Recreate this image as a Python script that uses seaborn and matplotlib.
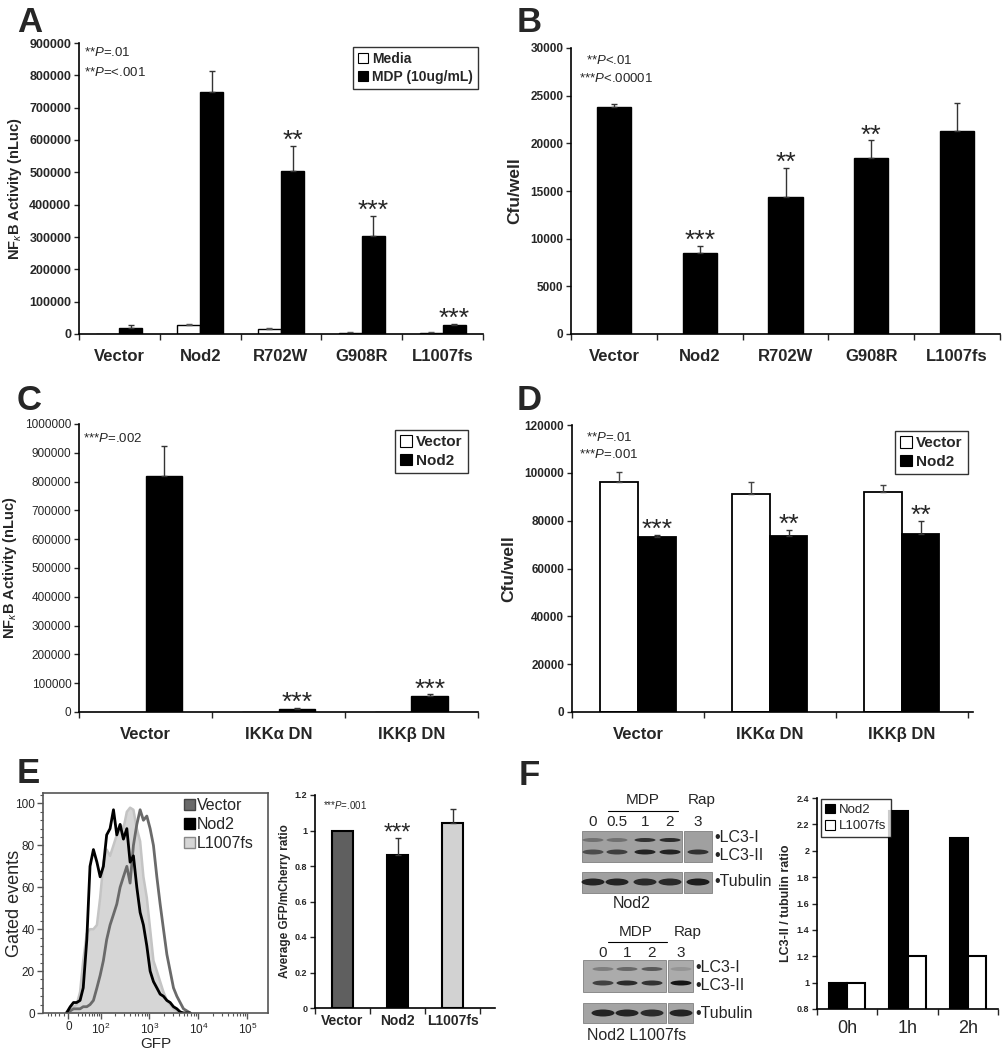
import numpy as np
import pandas as pd
import seaborn as sns
import matplotlib.pyplot as plt
from matplotlib.patches import Rectangle, Ellipse, Patch

sns.set_style("ticks")
plt.rcParams['font.family'] = ['Liberation Sans', 'DejaVu Sans']
plt.rcParams['mathtext.fontset'] = 'custom'
plt.rcParams['mathtext.rm'] = 'Liberation Sans'
plt.rcParams['mathtext.it'] = 'Liberation Sans:italic'
plt.rcParams['mathtext.bf'] = 'Liberation Sans:bold'

# ---------------- data ----------------
# A: NF-kB activity, media vs MDP
cats_a = ["Vector", "Nod2", "R702W", "G908R", "L1007fs"]
media_a = [1000, 27000, 15000, 3000, 3000]
media_err_a = [0, 5000, 5000, 3000, 2000]
mdp_a = [18000, 750000, 505000, 302000, 27000]
mdp_err_a = [9000, 63000, 77000, 62000, 4000]
stars_a = ["", "", "**", "***", "***"]

# B: cfu/well
cats_b = ["Vector", "Nod2", "R702W", "G908R", "L1007fs"]
cfu_b = [23800, 8500, 14400, 18500, 21300]
cfu_err_b = [300, 700, 3000, 1800, 2900]
stars_b = ["", "***", "**", "**", ""]

# C: NF-kB activity with dominant negatives
cats_c = ["Vector", "IKKα DN", "IKKβ DN"]
vector_c = [0, 0, 0]
nod2_c = [820000, 12000, 55000]
nod2_err_c = [105000, 3000, 6000]
stars_c = ["", "***", "***"]

# D: cfu/well with dominant negatives
cats_d = ["Vector", "IKKα DN", "IKKβ DN"]
vector_d = [96000, 91000, 92000]
vector_err_d = [4500, 5000, 3000]
nod2_d = [73000, 73500, 74500]
nod2_err_d = [1000, 2800, 5500]
stars_d = ["***", "**", "**"]

# E: GFP histograms (gated events per GFP bin)
gfp = [-4, 4, 11, 18, 26, 34, 44, 54, 66, 80, 95, 112, 132, 156, 184, 216, 253,
       296, 348, 406, 475, 557, 651, 760, 892, 1042, 1217, 1427, 1666, 1948,
       2283, 2667, 3115, 3651, 4262, 4978, 5841, 6820]
hist_vector = [0, 1, 2, 2, 2, 3, 3, 4, 6, 12, 18, 25, 35, 42, 47, 52, 60, 65, 70,
               62, 80, 90, 97, 92, 94, 88, 80, 65, 52, 40, 28, 20, 12, 8, 5, 2, 1, 0]
hist_nod2 = [0, 3, 5, 5, 6, 12, 35, 70, 78, 72, 65, 70, 85, 88, 97, 85, 90, 83, 88,
             72, 75, 60, 48, 42, 32, 20, 15, 12, 9, 8, 6, 5, 3, 2, 0.5, 0, 0, 0]
hist_l1007 = [0, 2, 3, 4, 10, 25, 38, 40, 40, 42, 55, 72, 78, 75, 80, 85, 90, 88, 96,
              98, 97, 88, 82, 65, 55, 40, 25, 20, 15, 10, 6, 4, 2, 1, 0, 0, 0, 0]

# E: GFP/mCherry ratio
cats_e = ["Vector", "Nod2", "L1007fs"]
ratio_e = [1.0, 0.86, 1.04]
ratio_err_e = [0, 0.10, 0.08]
colors_e = ["#5f5f5f", "#000000", "#d2d2d2"]
stars_e = ["", "***", ""]

# F: LC3-II / tubulin
cats_f = ["0h", "1h", "2h"]
nod2_f = [1.0, 2.3, 2.1]
l1007_f = [1.0, 1.2, 1.2]

# F: blot band intensities (0 = none, 1 = dark)
top_lanes = ["0", "0.5", "1", "2", "3"]
top_lc3i = [0.35, 0.35, 0.8, 0.85, 0.0]
top_lc3ii = [0.6, 0.7, 0.9, 0.9, 0.8]
top_tub = [0.9, 0.9, 0.85, 0.85, 0.95]
bot_lanes = ["0", "1", "2", "3"]
bot_lc3i = [0.3, 0.45, 0.55, 0.15]
bot_lc3ii = [0.7, 0.85, 0.8, 1.0]
bot_tub = [0.9, 0.9, 0.85, 0.9]

# ---------------- figure ----------------
W, H = 1002, 1050
fig = plt.figure(figsize=(W / 100, H / 100), dpi=100)


def px_axes(l, t, r, b):
    return fig.add_axes([l / W, 1 - b / H, (r - l) / W, (b - t) / H])


def style_bar_axes(ax, cats, ymin, ymax, ystep, fmt, ysize, ybold, xsize, xbold,
                   xpad, xmax=None):
    n = len(cats)
    ax.set_xlim(-0.5, (n - 0.5) if xmax is None else xmax)
    ax.set_ylim(ymin, ymax)
    yt = np.arange(ymin, ymax + ystep / 2, ystep)
    ax.set_yticks(yt, labels=[fmt(v) for v in yt], fontsize=ysize,
                  fontweight='bold' if ybold else 'normal')
    ax.set_xticks(np.arange(n + 1) - 0.5, labels=[''] * (n + 1))
    ax.set_xticks(np.arange(n), labels=cats, minor=True, fontsize=xsize,
                  fontweight='bold' if xbold else 'normal')
    ax.tick_params(axis='x', which='major', length=4, width=1, direction='out')
    ax.tick_params(axis='x', which='minor', length=0, pad=xpad)
    ax.tick_params(axis='y', length=3.5, width=1, direction='out', pad=2)
    ax.set_xlabel('')
    for s in ['top', 'right']:
        ax.spines[s].set_visible(False)
    for s in ['left', 'bottom']:
        ax.spines[s].set_linewidth(1.2)
        ax.spines[s].set_color('black')


def add_errors(ax, patches, errs, color='#333333', stars=None, star_size=19):
    for i, (p, e) in enumerate(zip(patches, errs)):
        x = p.get_x() + p.get_width() / 2
        h = p.get_height()
        if e > 0:
            ax.errorbar(x, h, yerr=[[0], [e]], fmt='none', ecolor=color,
                        elinewidth=1, capsize=2.5, capthick=1)
        if stars and stars[i]:
            ax.annotate(stars[i], (x, h + e), xytext=(0, -5),
                        textcoords='offset points', ha='center', va='bottom',
                        fontsize=star_size)


def style_legend(ax, anchor, size, bold=True, loc='upper right'):
    handles, labels = ax.get_legend_handles_labels()
    leg = ax.legend(handles, labels, loc=loc, bbox_to_anchor=anchor,
                    frameon=True, fancybox=False, edgecolor='black',
                    prop=dict(weight='bold' if bold else 'normal', size=size),
                    handlelength=0.75, handleheight=0.75, handletextpad=0.3,
                    borderpad=0.35, labelspacing=0.3, borderaxespad=0)
    leg.get_frame().set_linewidth(1)
    for h in leg.legend_handles:
        h.set_edgecolor('black')
        h.set_linewidth(0.8)
    return leg


int_fmt = lambda v: f"{v:.0f}"
g_fmt = lambda v: f"{round(v, 2):g}"
nfkb_label = r"NF$_{\kappa}$B Activity (nLuc)"

# ---- A ----
ax = px_axes(79, 43, 483, 334)
df_a = pd.DataFrame({'construct': cats_a * 2,
                     'treatment': ['Media'] * 5 + ['MDP (10ug/mL)'] * 5,
                     'value': media_a + mdp_a})
sns.barplot(data=df_a, x='construct', y='value', hue='treatment', order=cats_a,
            hue_order=['Media', 'MDP (10ug/mL)'],
            palette={'Media': 'white', 'MDP (10ug/mL)': 'black'},
            edgecolor='black', linewidth=1, width=0.57, errorbar=None, ax=ax)
style_bar_axes(ax, cats_a, 0, 900000, 100000, int_fmt, 9, True, 12, True, 11)
add_errors(ax, ax.containers[0].patches, media_err_a, color='#555555')
add_errors(ax, ax.containers[1].patches, mdp_err_a, stars=stars_a)
ax.set_ylabel(nfkb_label, fontsize=10.5, fontweight='bold', labelpad=4)
style_legend(ax, (0.988, 0.986), 10)
ax.text(0.013, 0.966, "**$P$=.01", transform=ax.transAxes, fontsize=9.5, va='center')
ax.text(0.013, 0.90, "**$P$=<.001", transform=ax.transAxes, fontsize=9.5, va='center')

# ---- B ----
ax = px_axes(571, 48, 1000, 334)
sns.barplot(x=cats_b, y=cfu_b, color='black', edgecolor='black', linewidth=1,
            width=0.4, errorbar=None, ax=ax)
style_bar_axes(ax, cats_b, 0, 30000, 5000, int_fmt, 8.5, True, 12, True, 11)
add_errors(ax, ax.containers[0].patches, cfu_err_b, stars=stars_b)
ax.set_ylabel("Cfu/well", fontsize=12.5, fontweight='bold', labelpad=6)
ax.text(0.035, 0.955, "**$P$<.01", transform=ax.transAxes, fontsize=9.5, va='center')
ax.text(0.019, 0.892, "***$P$<.00001", transform=ax.transAxes, fontsize=9.5, va='center')

# ---- C ----
ax = px_axes(79, 424, 478, 712)
df_c = pd.DataFrame({'construct': cats_c * 2,
                     'plasmid': ['Vector'] * 3 + ['Nod2'] * 3,
                     'value': vector_c + nod2_c})
sns.barplot(data=df_c, x='construct', y='value', hue='plasmid', order=cats_c,
            hue_order=['Vector', 'Nod2'], palette={'Vector': 'white', 'Nod2': 'black'},
            edgecolor='black', linewidth=1, width=0.556, errorbar=None, ax=ax)
style_bar_axes(ax, cats_c, 0, 1000000, 100000, int_fmt, 8.5, False, 12, True, 11)
add_errors(ax, ax.containers[1].patches, nod2_err_c, stars=stars_c)
ax.set_ylabel(nfkb_label, fontsize=10.5, fontweight='bold', labelpad=4)
style_legend(ax, (0.975, 0.979), 11)
ax.text(0.01, 0.951, "***$P$=.002", transform=ax.transAxes, fontsize=9.5, va='center')

# ---- D ----
ax = px_axes(572, 425, 973, 712)
df_d = pd.DataFrame({'construct': cats_d * 2,
                     'plasmid': ['Vector'] * 3 + ['Nod2'] * 3,
                     'value': vector_d + nod2_d})
sns.barplot(data=df_d, x='construct', y='value', hue='plasmid', order=cats_d,
            hue_order=['Vector', 'Nod2'], palette={'Vector': 'white', 'Nod2': 'black'},
            edgecolor='black', linewidth=1.3, width=0.57, errorbar=None, ax=ax)
style_bar_axes(ax, cats_d, 0, 120000, 20000, int_fmt, 8.5, True, 12, True, 11,
               xmax=2.54)
add_errors(ax, ax.containers[0].patches, vector_err_d, color='#444444')
add_errors(ax, ax.containers[1].patches, nod2_err_d, stars=stars_d)
ax.set_ylabel("Cfu/well", fontsize=12.5, fontweight='bold', labelpad=6)
style_legend(ax, (0.9875, 0.979), 11)
ax.text(0.035, 0.955, "**$P$=.01", transform=ax.transAxes, fontsize=9.5, va='center')
ax.text(0.017, 0.896, "***$P$=.001", transform=ax.transAxes, fontsize=9.5, va='center')

# ---- E histogram ----
ax = px_axes(43, 793, 268, 1013)
ax.set_xscale('function', functions=(lambda v: np.arcsinh(np.asarray(v) / 45.0),
                                     lambda u: 45.0 * np.sinh(np.asarray(u))))
ax.fill_between(gfp, hist_l1007, color='#d6d6d6', lw=0)
sns.lineplot(x=gfp, y=hist_l1007, color='#c4c4c4', lw=1.8, ax=ax)
sns.lineplot(x=gfp, y=hist_vector, color='#6a6a6a', lw=2, ax=ax)
sns.lineplot(x=gfp, y=hist_nod2, color='black', lw=2, ax=ax)
ax.set_xlim(-67, 262144)
ax.set_ylim(0, 105)
ax.set_xticks([0, 1e2, 1e3, 1e4, 1e5],
              labels=['0', '$10^{2}$', '$10^{3}$', '$10^{4}$', '$10^{5}$'], fontsize=8.5)
minor_x = [-50, -40, -30, -20, -10] + [m * 10 ** k for k in range(1, 5) for m in range(2, 10)]
ax.set_xticks(minor_x, minor=True)
ax.set_yticks([0, 20, 40, 60, 80, 100], labels=['0', '20', '40', '60', '80', '100'],
              fontsize=8.5)
ax.set_yticks(np.arange(0, 105, 4), minor=True)
ax.tick_params(which='major', length=4, width=1, direction='out', color='#555555', pad=2)
ax.tick_params(which='minor', length=2, width=0.8, direction='out', color='#555555')
for s in ax.spines.values():
    s.set_color('#555555')
    s.set_linewidth(1.2)
ax.set_xlabel("GFP", fontsize=11, labelpad=0)
ax.set_ylabel("Gated events", fontsize=13)
ax.yaxis.set_label_coords(-0.09, 0.5)
ax.legend(handles=[Patch(facecolor='#6a6a6a', edgecolor='#444444', label='Vector'),
                   Patch(facecolor='black', edgecolor='black', label='Nod2'),
                   Patch(facecolor='#d6d6d6', edgecolor='#888888', label='L1007fs')],
          loc='upper left', bbox_to_anchor=(0.6, 1.005), frameon=False,
          handlelength=0.65, handleheight=0.65, handletextpad=0.15,
          labelspacing=0.25, fontsize=11.5, borderaxespad=0)

# ---- E ratio bars ----
ax = px_axes(315, 795, 495, 1008)
sns.barplot(x=cats_e, y=ratio_e, hue=cats_e, palette=colors_e, legend=False,
            edgecolor='black', linewidth=1.5, width=0.38, errorbar=None, ax=ax)
style_bar_axes(ax, cats_e, 0, 1.2, 0.2, g_fmt, 6.5, True, 10, True, 4, xmax=2.77)
bars_e = sorted(ax.patches, key=lambda p: p.get_x())
add_errors(ax, bars_e, ratio_err_e, stars=stars_e, star_size=17)
ax.set_ylabel("Average GFP/mCherry ratio", fontsize=8.5, fontweight='bold', labelpad=3)
ax.text(0.045, 0.955, "***$P$=.001", transform=ax.transAxes, fontsize=7, va='center')

# ---- F ratio bars ----
ax = px_axes(817, 798, 998, 1009)
df_f = pd.DataFrame({'time': cats_f * 2,
                     'cells': ['Nod2'] * 3 + ['L1007fs'] * 3,
                     'value': nod2_f + l1007_f})
sns.barplot(data=df_f, x='time', y='value', hue='cells', order=cats_f,
            hue_order=['Nod2', 'L1007fs'], palette={'Nod2': 'black', 'L1007fs': 'white'},
            edgecolor='black', linewidth=1.5, width=0.6, errorbar=None, ax=ax)
style_bar_axes(ax, cats_f, 0.8, 2.4, 0.2, g_fmt, 6.5, True, 13, False, 8)
ax.set_ylabel("LC3-II / tubulin ratio", fontsize=9, fontweight='bold', labelpad=3)
leg = style_legend(ax, (0.02, 0.995), 9.5, bold=False, loc='upper left')
leg.set_zorder(5)

# ---- F blots ----
axb = px_axes(560, 790, 800, 1045)
axb.set_xlim(560, 800)
axb.set_ylim(1045, 790)
axb.axis('off')


def draw_blot(x0, x1, y0, y1, color='#a0a0a0'):
    axb.add_patch(Rectangle((x0, y0), x1 - x0, y1 - y0, facecolor=color,
                            edgecolor='#808080', lw=0.6))


def draw_bands(xs, y, inten, h, w=21):
    for x, a in zip(xs, inten):
        if a > 0:
            axb.add_patch(Ellipse((x, y), w, h, facecolor='#151515', alpha=a, lw=0))


# top blot (Nod2)
top_x = [593, 617, 645, 670, 698]
draw_blot(582, 682, 831, 862)
draw_blot(684, 712, 831, 862)
draw_blot(582, 682, 872, 893)
draw_blot(684, 712, 872, 893)
draw_bands(top_x, 840, top_lc3i, 4)
draw_bands(top_x, 852, top_lc3ii, 5)
draw_bands(top_x, 882, top_tub, 7, w=23)
for x, s in zip(top_x, top_lanes):
    axb.text(x, 822, s, ha='center', va='center', fontsize=11)
axb.text(643, 800, "MDP", ha='center', va='center', fontsize=11)
axb.plot([608, 678], [811, 811], color='black', lw=0.8)
axb.text(702, 800, "Rap", ha='center', va='center', fontsize=11)
axb.text(714, 838, "•LC3-I", ha='left', va='center', fontsize=11.5)
axb.text(714, 855, "•LC3-II", ha='left', va='center', fontsize=11.5)
axb.text(714, 882, "•Tubulin", ha='left', va='center', fontsize=11.5)
axb.text(632, 904, "Nod2", ha='center', va='center', fontsize=11.5)

# bottom blot (L1007fs)
bot_x = [603, 627, 652, 681]
draw_blot(583, 666, 960, 992, color='#ababab')
draw_blot(668, 693, 960, 992, color='#ababab')
draw_blot(583, 666, 1003, 1023, color='#a4a4a4')
draw_blot(668, 693, 1003, 1023, color='#a4a4a4')
draw_bands(bot_x, 969, bot_lc3i, 4)
draw_bands(bot_x, 983, bot_lc3ii, 5)
draw_bands(bot_x, 1013, bot_tub, 7, w=23)
for x, s in zip(bot_x, bot_lanes):
    axb.text(x, 953, s, ha='center', va='center', fontsize=11)
axb.text(636, 932, "MDP", ha='center', va='center', fontsize=11)
axb.plot([608, 667], [942, 942], color='black', lw=0.8)
axb.text(688, 932, "Rap", ha='center', va='center', fontsize=11)
axb.text(695, 968, "•LC3-I", ha='left', va='center', fontsize=11.5)
axb.text(695, 985, "•LC3-II", ha='left', va='center', fontsize=11.5)
axb.text(695, 1013, "•Tubulin", ha='left', va='center', fontsize=11.5)
axb.text(637, 1036, "Nod2 L1007fs", ha='center', va='center', fontsize=11.5)

# ---- panel letters ----
for letter, x, y in [("A", 17, 32), ("B", 517, 32), ("C", 17, 410),
                     ("D", 517, 410), ("E", 17, 783), ("F", 519, 785)]:
    fig.text(x / W, 1 - y / H, letter, fontsize=25, fontweight='bold',
             ha='left', va='baseline')

fig.savefig("out.png", dpi=100)
